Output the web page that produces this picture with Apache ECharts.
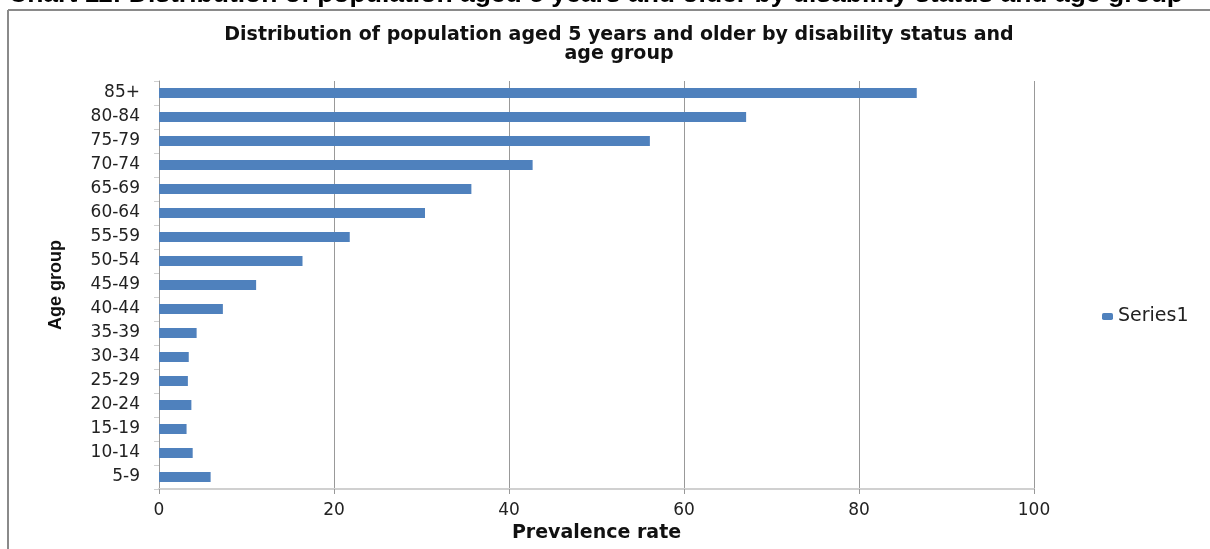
<!DOCTYPE html>
<html>
<head>
<meta charset="utf-8">
<script src="https://cdn.jsdelivr.net/npm/echarts@6/dist/echarts.min.js"></script>
<style>
html,body{margin:0;padding:0;background:#fff;}
#chart{width:1210px;height:549px;}
</style>
</head>
<body>
<div id="chart"></div>
<script>
var categories = ['5-9','10-14','15-19','20-24','25-29','30-34','35-39','40-44','45-49','50-54','55-59','60-64','65-69','70-74','75-79','80-84','85+'];
var series1 = [5.9, 3.85, 3.15, 3.7, 3.3, 3.4, 4.3, 7.3, 11.1, 16.4, 21.8, 30.4, 35.7, 42.7, 56.1, 67.1, 86.6];
var xTicks = [0, 20, 40, 60, 80, 100];
var seriesName = 'Series1';
var headerText = 'Chart 11: Distribution of population aged 5 years and older by disability status and age group';
var titleText = 'Distribution of population aged 5 years and older by disability status and\nage group';

var chart = echarts.init(document.getElementById('chart'));
chart.setOption({
  animation: false,
  backgroundColor: '#fff',
  title: {
    text: titleText,
    left: 614,
    top: 21,
    textAlign: 'center',
    textStyle: {fontFamily: 'DejaVu Sans', fontWeight: 'bold', fontSize: 19, lineHeight: 19, color: '#111'}
  },
  legend: {
    data: [seriesName],
    left: 1097,
    top: 302,
    itemWidth: 11,
    itemHeight: 7,
    itemGap: 6,
    textStyle: {fontFamily: 'DejaVu Sans', fontSize: 19, color: '#222'}
  },
  graphic: [
    {type: 'text', left: 8, top: -19, style: {text: headerText, font: 'bold 26.5px "Liberation Sans"', fill: '#000'}},
    {type: 'line', shape: {x1: 8, y1: 10, x2: 1210, y2: 10}, style: {stroke: '#8a8a8a', lineWidth: 2}},
    {type: 'line', shape: {x1: 8, y1: 10, x2: 8, y2: 549}, style: {stroke: '#8a8a8a', lineWidth: 2}}
  ],
  grid: {left: 159, right: 176, top: 81, bottom: 60, containLabel: false},
  xAxis: {
    type: 'value',
    min: xTicks[0],
    max: xTicks[xTicks.length - 1],
    interval: xTicks[1] - xTicks[0],
    name: 'Prevalence rate',
    nameLocation: 'middle',
    nameGap: 32,
    nameTextStyle: {fontFamily: 'DejaVu Sans', fontWeight: 'bold', fontSize: 19, color: '#111'},
    axisLine: {show: true, lineStyle: {color: '#d0d0d0', width: 2}},
    axisTick: {show: true, length: 5, lineStyle: {color: '#999'}},
    axisLabel: {margin: 13, fontFamily: 'DejaVu Sans', fontSize: 17, color: '#222'},
    splitLine: {show: true, lineStyle: {color: '#999', width: 1}}
  },
  yAxis: {
    type: 'category',
    data: categories,
    name: 'Age group',
    nameLocation: 'middle',
    nameGap: 94,
    nameRotate: 90,
    nameTextStyle: {fontFamily: 'Liberation Sans', fontWeight: 'bold', fontSize: 18, color: '#111'},
    axisLine: {show: true, lineStyle: {color: '#999', width: 1}},
    axisTick: {show: true, length: 5, lineStyle: {color: '#d0d0d0'}},
    axisLabel: {margin: 19, fontFamily: 'DejaVu Sans', fontSize: 17, color: '#222'},
    splitLine: {show: false}
  },
  series: [{
    name: seriesName,
    type: 'bar',
    data: series1,
    barWidth: 10,
    itemStyle: {color: '#4F81BD'}
  }]
});
</script>
</body>
</html>
